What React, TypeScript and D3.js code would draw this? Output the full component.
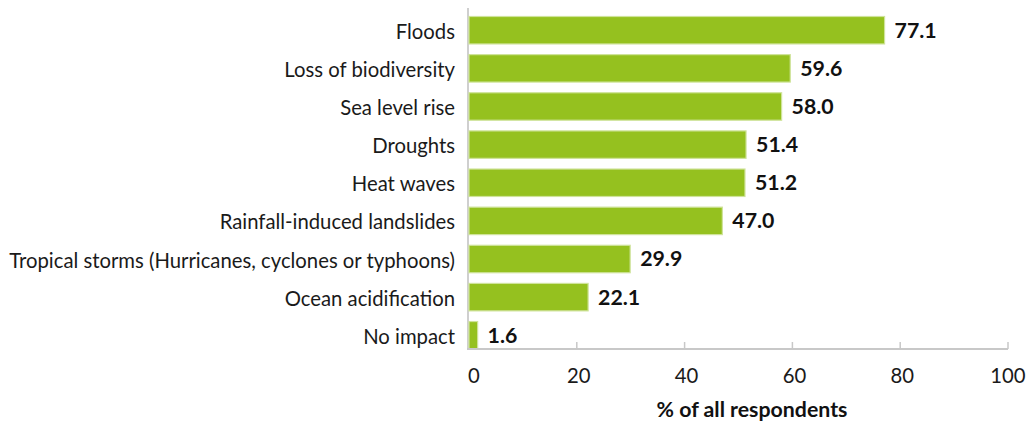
import React from "react";
import * as d3 from "d3";

const categories = [
  "Floods",
  "Loss of biodiversity",
  "Sea level rise",
  "Droughts",
  "Heat waves",
  "Rainfall-induced landslides",
  "Tropical storms (Hurricanes, cyclones or typhoons)",
  "Ocean acidification",
  "No impact",
];
const values = [77.1, 59.6, 58.0, 51.4, 51.2, 47.0, 29.9, 22.1, 1.6];
const xTicks = [0, 20, 40, 60, 80, 100];
const axisTitle = "% of all respondents";

const W = 1029;
const H = 423;
const left = 469;
const right = 1008;
const top = 16.5;
const bottom = 349;
const FONT = "Lato, 'Open Sans', sans-serif";
const FS = 20.3;
const FSB = 21.3;

export default function App() {
  const x = d3.scaleLinear().domain([0, 100]).range([left, right]);
  const y = d3
    .scaleBand<string>()
    .domain(categories)
    .range([top, bottom])
    .paddingInner(0.28)
    .paddingOuter(0);

  return (
    <svg
      width={W}
      height={H}
      style={{ position: "absolute", left: 0, top: 0, background: "#fff" }}
    >
      {/* vertical axis */}
      <line x1={left - 1} x2={left - 1} y1={8} y2={bottom} stroke="#cfcfcf" strokeWidth={2} />
      {/* bars */}
      {categories.map((c, i) => (
        <g key={c}>
          <rect
            x={x(0)}
            y={y(c)!}
            width={x(values[i]) - x(0)}
            height={y.bandwidth()}
            fill="#95c11f"
            stroke="#cfe39a"
            strokeWidth={1.2}
          />
          <text
            x={left - 14}
            y={y(c)! + y.bandwidth() / 2 + 1.5}
            dy="0.35em"
            textAnchor="end"
            fontFamily={FONT}
            fontSize={FS}
            fill="#1a1a1a"
          >
            {c}
          </text>
          <text
            x={x(values[i]) + 10}
            y={y(c)! + y.bandwidth() / 2}
            dy="0.35em"
            fontFamily={FONT}
            fontSize={FSB}
            fontWeight="bold"
            fill="#111"
          >
            {values[i].toFixed(1)}
          </text>
        </g>
      ))}
      {/* horizontal axis */}
      <line x1={left - 2} x2={right} y1={bottom} y2={bottom} stroke="#c8c8c8" strokeWidth={2} />
      {xTicks.map((t) => (
        <g key={t}>
          {t > 0 && (
            <line x1={x(t)} x2={x(t)} y1={bottom} y2={bottom - 7} stroke="#c8c8c8" strokeWidth={1.5} />
          )}
          <text
            x={x(t) + (t === 0 ? 5 : t === 100 ? 0 : 2)}
            y={383}
            textAnchor="middle"
            fontFamily={FONT}
            fontSize={FS}
            fill="#1a1a1a"
          >
            {t}
          </text>
        </g>
      ))}
      <text
        x={752}
        y={417}
        textAnchor="middle"
        fontFamily={FONT}
        fontSize={FSB}
        fontWeight="bold"
        fill="#111"
      >
        {axisTitle}
      </text>
    </svg>
  );
}
